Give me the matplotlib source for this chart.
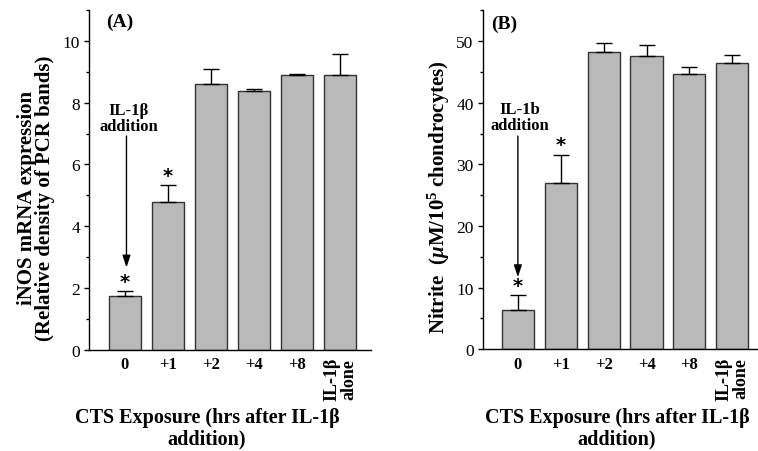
import numpy as np
import matplotlib
matplotlib.use('Agg')
import matplotlib.pyplot as plt
from matplotlib.ticker import MultipleLocator

#**************************************************#
# data

categories = ['0', '+1', '+2', '+4', '+8', 'IL-1\u03b2\nalone']

# (A) iNOS mRNA expression
inos_mean = [1.75, 4.78, 8.61, 8.38, 8.90, 8.90]
inos_sem = [0.15, 0.54, 0.49, 0.07, 0.03, 0.68]

# (B) nitrite
nitrite_mean = [6.4, 26.9, 48.2, 47.6, 44.6, 46.4]
nitrite_sem = [2.4, 4.7, 1.5, 1.7, 1.2, 1.4]

# significance stars (bar indices)
sig_bars = [0, 1]

# arrow "IL-1b addition": (from, to) in data units
arrow_a = (6.92, 2.66)
arrow_b = (34.6, 11.7)

#**************************************************#
# style

plt.rcParams['font.family'] = ['Liberation Serif', 'DejaVu Serif']
plt.rcParams['mathtext.fontset'] = 'custom'
plt.rcParams['mathtext.rm'] = 'Liberation Serif:bold'
plt.rcParams['mathtext.it'] = 'Liberation Serif:bold:italic'

bar_color = '#b9b9b9'
edge_color = '#333333'

fig = plt.figure(figsize=(7.58, 4.52), dpi=100)
ax_a = fig.add_axes([0.118, 0.2245, 0.372, 0.751])
ax_b = fig.add_axes([0.637, 0.2252, 0.363, 0.7505])

x = np.arange(len(categories))


def draw_panel(ax, mean, sem, ylim, major, minor, xlim):
    ax.bar(x, mean, width=0.75, color=bar_color, edgecolor=edge_color,
           linewidth=1.0, zorder=2)
    ax.errorbar(x, mean, yerr=[np.zeros(len(mean)), sem], fmt='none',
                ecolor='black', elinewidth=1.0, capsize=6, capthick=1.0,
                zorder=3)
    for i in sig_bars:
        ax.annotate('*', xy=(x[i], mean[i] + sem[i]), xytext=(0, 7),
                    textcoords='offset points', ha='center', va='center',
                    fontsize=14, fontweight='bold', family='DejaVu Sans')
    ax.set_xlim(*xlim)
    ax.set_ylim(*ylim)
    ax.yaxis.set_major_locator(MultipleLocator(major))
    ax.yaxis.set_minor_locator(MultipleLocator(minor))
    ax.spines['top'].set_visible(False)
    ax.spines['right'].set_visible(False)
    ax.spines['left'].set_linewidth(1.0)
    ax.spines['bottom'].set_linewidth(1.0)
    ax.tick_params(axis='y', which='major', direction='out', length=3.6,
                   width=1.0, labelsize=12.5, pad=3)
    ax.tick_params(axis='y', which='minor', direction='out', length=2.2,
                   width=1.0)
    ax.tick_params(axis='x', length=0, pad=5)
    ax.set_xticks(x)
    ax.set_xticklabels(categories, fontweight='bold', fontsize=12)
    last = ax.get_xticklabels()[-1]
    last.set_rotation(90)
    last.set_va('top')
    last.set_linespacing(1.0)
    last.set_fontsize(13)


draw_panel(ax_a, inos_mean, inos_sem, (0, 11.0), 2, 1, (-0.82, 5.73))
draw_panel(ax_b, nitrite_mean, nitrite_sem, (0, 55.06), 10, 5, (-0.817, 5.6))

# arrows
ax_a.annotate('', xy=(x[0] + 0.04, arrow_a[1]), xytext=(x[0] + 0.04, arrow_a[0]),
              arrowprops=dict(arrowstyle='-|>,head_length=0.6,head_width=0.2',
                              color='black', lw=1.0, shrinkA=0, shrinkB=0,
                              mutation_scale=12))
ax_a.text(x[0] + 0.1, 7.5, 'IL-1\u03b2\naddition', ha='center', va='center',
          fontsize=12, fontweight='bold', linespacing=1.05)

ax_b.annotate('', xy=(x[0], arrow_b[1]), xytext=(x[0], arrow_b[0]),
              arrowprops=dict(arrowstyle='-|>,head_length=0.6,head_width=0.2',
                              color='black', lw=1.0, shrinkA=0, shrinkB=0,
                              mutation_scale=12))
ax_b.text(x[0] + 0.05, 37.7, 'IL-1b\naddition', ha='center', va='center',
          fontsize=12, fontweight='bold', linespacing=1.05)

# panel labels
ax_a.text(0.108, 0.967, '(A)', transform=ax_a.transAxes, ha='center',
          va='center', fontsize=14, fontweight='bold')
ax_b.text(0.078, 0.962, '(B)', transform=ax_b.transAxes, ha='center',
          va='center', fontsize=14, fontweight='bold')

# axis titles
fig.text(36 / 758, 1 - 198 / 452,
         'iNOS mRNA expression\n(Relative density of PCR bands)',
         rotation=90, ha='center', va='center', fontsize=15,
         fontweight='bold', linespacing=0.92)
fig.text(439 / 758, 1 - 197 / 452,
         r'Nitrite  ($\mathit{\mu}$M/10$^{5}$ chondrocytes)',
         rotation=90, ha='center', va='center', fontsize=15,
         fontweight='bold')

xlab = 'CTS Exposure (hrs after IL-1\u03b2\naddition)'
fig.text(207 / 758, 1 - 429 / 452, xlab, ha='center', va='center',
         fontsize=14.5, fontweight='bold', linespacing=1.1)
fig.text(617 / 758, 1 - 429 / 452, xlab, ha='center', va='center',
         fontsize=14.5, fontweight='bold', linespacing=1.1)

fig.savefig('out.png', dpi=100)
